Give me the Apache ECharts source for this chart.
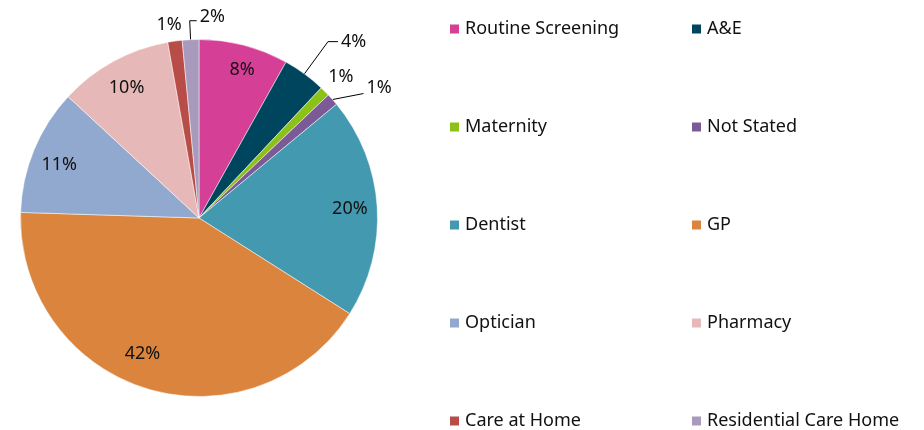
<!DOCTYPE html>
<html>
<head>
<meta charset="utf-8">
<script src="https://cdn.jsdelivr.net/npm/echarts@6/dist/echarts.min.js"></script>
<style>
  html, body { margin: 0; padding: 0; background: #fff; }
  #chart { width: 924px; height: 430px; }
</style>
</head>
<body>
<div id="chart"></div>
<script>
// 分类与数值
const categories = ['Routine Screening', 'A&E', 'Maternity', 'Not Stated', 'Dentist',
  'GP', 'Optician', 'Pharmacy', 'Care at Home', 'Residential Care Home']
const values = [8.1, 3.9, 0.9, 1.1, 20.0, 41.5, 11.4, 10.3, 1.3, 1.5]
const colors = ['#D63F96', '#00455E', '#8CC218', '#7B5A96', '#4299B0',
  '#DA843E', '#92A9CF', '#E6B9B8', '#B84C47', '#A99ABD']
// 小扇区标签放在外侧
const outsideIdx = [1, 2, 3, 8, 9]
const leftLegend = ['Routine Screening', 'Maternity', 'Dentist', 'Optician', 'Care at Home']
const rightLegend = ['A&E', 'Not Stated', 'GP', 'Pharmacy', 'Residential Care Home']

const font = 'Noto Sans'
const cx = 199, cy = 218, R = 178.5

// 外侧标签引线长度
const lineCfg = {
  1: { length: 40, length2: 10, show: true },
  2: { length: 12, length2: 0, show: false },
  3: { length: 6, length2: 24, show: true },
  8: { length: 16, length2: 0, show: false },
  9: { length: 19, length2: 0, show: true }
}
// 内侧标签的微调偏移
const insideShift = { 0: [5, -2], 5: [-12, -9], 6: [0, 4], 7: [0, 3] }

const mainData = categories.map((name, i) => ({
  name,
  value: values[i],
  itemStyle: { color: colors[i] },
  label: { show: outsideIdx.includes(i) },
  labelLine: lineCfg[i] || { show: false }
}))

const overlayData = categories.map((name, i) => ({
  name,
  value: values[i],
  label: { show: !outsideIdx.includes(i) }
}))

const legendBase = {
  orient: 'vertical', top: 20, padding: 0,
  itemWidth: 11, itemHeight: 11, itemGap: 80, itemSymbolGap: 7,
  icon: 'rect',
  textStyle: { fontFamily: font, fontSize: 18, color: '#111' }
}

const chart = echarts.init(document.getElementById('chart'))
chart.setOption({
  animation: false,
  legend: [
    Object.assign({}, legendBase, { left: 448, data: leftLegend }),
    Object.assign({}, legendBase, { left: 690, data: rightLegend })
  ],
  series: [
    {
      type: 'pie',
      center: [cx, cy],
      radius: [0, R],
      startAngle: 90,
      percentPrecision: 0,
      avoidLabelOverlap: false,
      itemStyle: { borderColor: '#fff', borderWidth: 0.5 },
      label: {
        position: 'outside', formatter: '{d}%',
        fontFamily: font, fontSize: 18, color: '#111', distanceToLabelLine: 3
      },
      labelLine: { lineStyle: { color: '#000', width: 1 } },
      labelLayout: function (params) {
        const i = params.dataIndex
        const p = params.labelLinePoints
        if (i === 2) return { dx: -8, dy: -6 }
        if (i === 8) return { dx: 12 }
        if (i === 3 && p) {
          const end = [p[0][0] + 31, p[0][1] - 6]
          return {
            x: end[0] + 3, y: end[1] - 6,
            align: 'left', verticalAlign: 'middle',
            labelLinePoints: [p[0], end, end]
          }
        }
        if (i === 9 && p) {
          // 2% 标签在引线右侧
          const end = [p[1][0] + 7, p[1][1]]
          return {
            x: end[0] + 3, y: end[1] - 4,
            align: 'left', verticalAlign: 'middle',
            labelLinePoints: [p[0], p[1], end]
          }
        }
      },
      emphasis: { disabled: true },
      data: mainData
    },
    {
      // 透明覆盖层：用于将大扇区的标签放在靠外的位置
      type: 'pie',
      center: [cx, cy],
      radius: [R * 0.66, R],
      startAngle: 90,
      percentPrecision: 0,
      silent: true,
      itemStyle: { color: 'rgba(0,0,0,0)' },
      label: {
        position: 'inside', formatter: '{d}%',
        fontFamily: font, fontSize: 18, color: '#111'
      },
      labelLine: { show: false },
      labelLayout: function (params) {
        const s = insideShift[params.dataIndex]
        if (s) return { dx: s[0], dy: s[1] }
      },
      emphasis: { disabled: true },
      data: overlayData
    }
  ]
})
</script>
</body>
</html>
